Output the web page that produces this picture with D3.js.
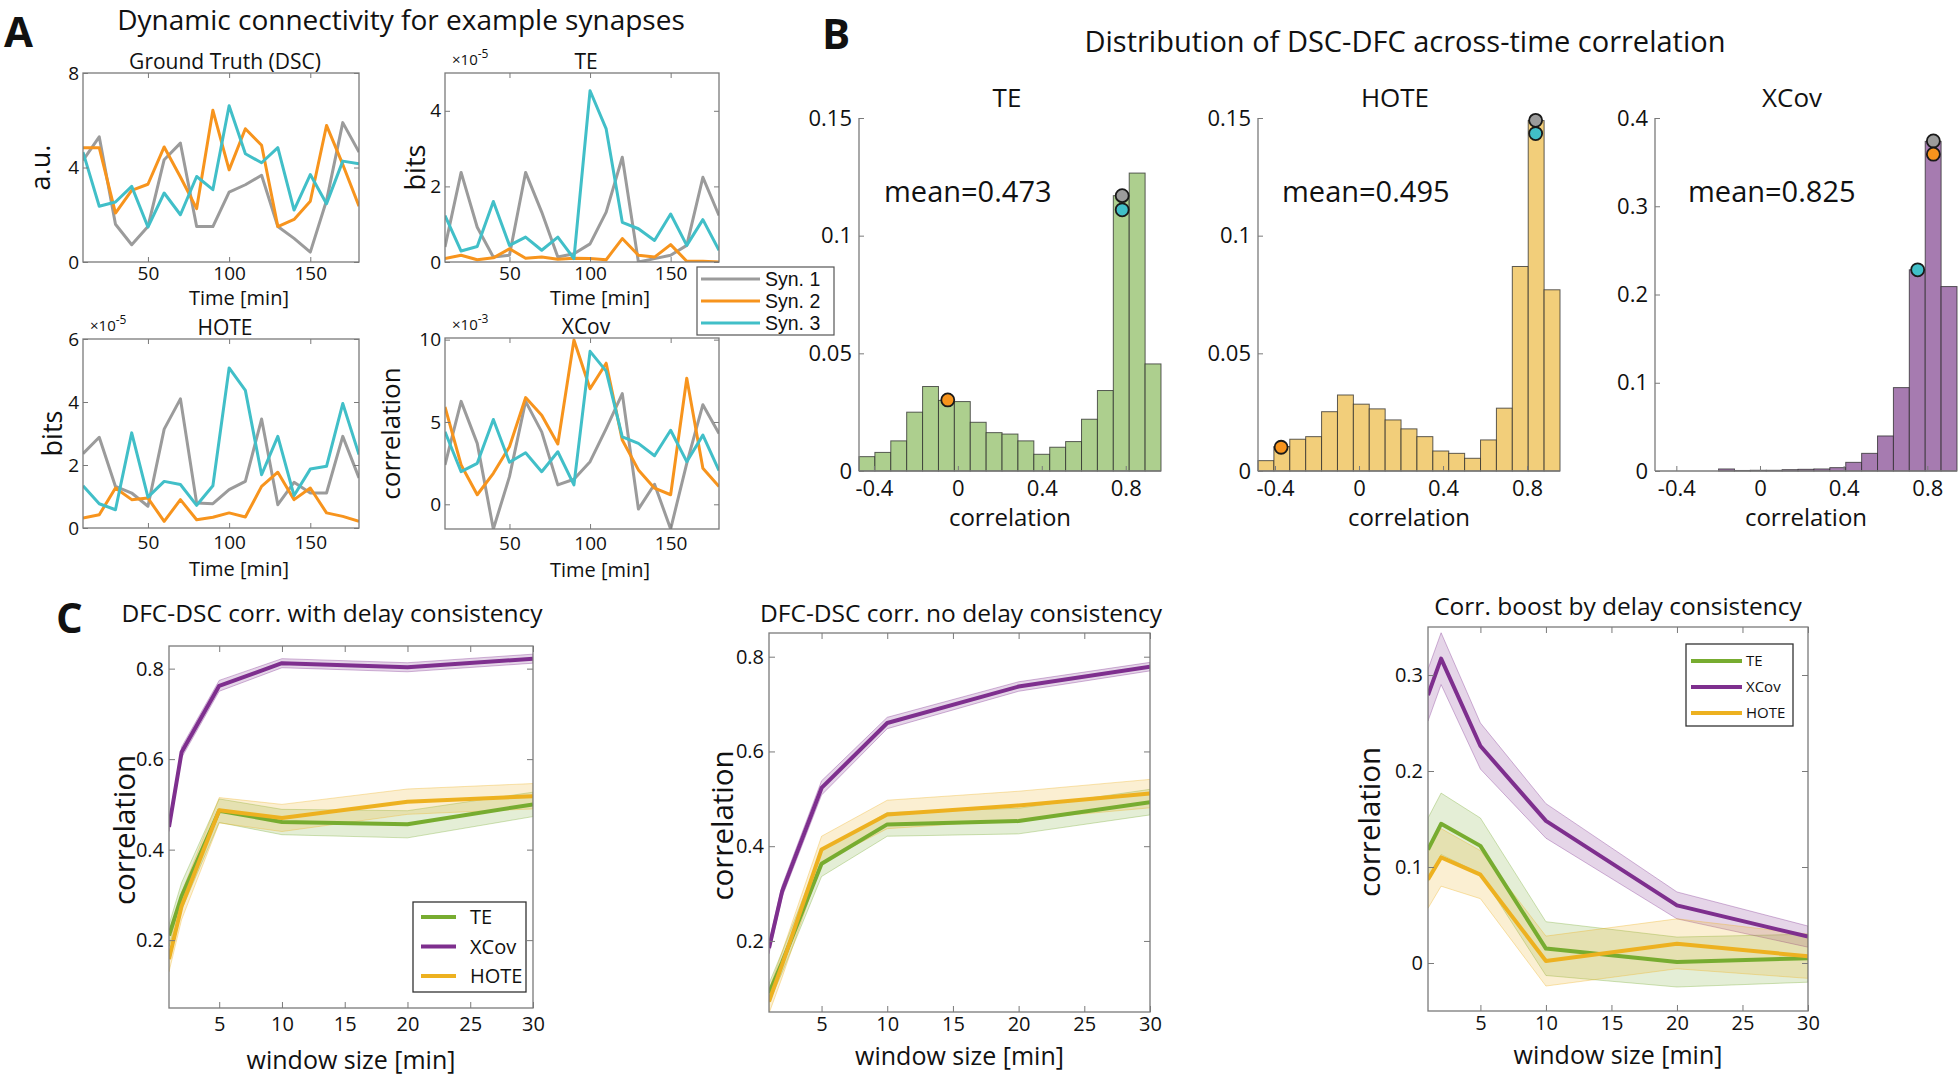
<!DOCTYPE html>
<html><head><meta charset="utf-8">
<script src="https://cdn.jsdelivr.net/npm/d3@7"></script>
<style>
body{margin:0;background:#fff;}
svg text{font-family:"Open Sans",sans-serif;fill:#111;}
svg text.leg{font-family:"Liberation Sans",Arial,sans-serif;}
</style></head><body>
<svg id="fig" width="1960" height="1077"></svg>
<script>
// ---------------- DATA ----------------
const timeMin = [10,20,30,40,50,60,70,80,90,100,110,120,130,140,150,160,170,180];
const synNames = ["Syn. 1","Syn. 2","Syn. 3"];
// Ground truth (a.u.)
const gtSyn1 = [4.3,5.3,1.6,0.73,1.5,4.33,5.03,1.5,1.5,2.96,3.27,3.67,1.5,1.0,0.42,2.6,5.9,4.65];
const gtSyn2 = [4.84,4.84,2.07,3.03,3.29,4.87,3.6,2.26,6.42,3.9,5.64,4.94,1.5,1.8,2.57,5.78,4.13,2.36];
const gtSyn3 = [4.65,2.36,2.54,3.2,1.48,2.92,2.0,3.62,3.06,6.61,4.58,4.2,4.84,2.2,3.7,2.47,4.27,4.16];
// TE (x1e-5 bits)
const teSyn1 = [0.4,2.37,0.92,0.13,0.18,2.37,1.32,0.13,0.22,0.48,1.32,2.77,0,0.09,0.18,0.44,2.24,1.23];
const teSyn2 = [0.09,0.18,0.06,0.11,0.35,0.1,0.13,0.07,0.1,0.09,0.06,0.62,0.18,0.13,0.46,0.02,0.02,0.0];
const teSyn3 = [1.23,0.29,0.41,1.6,0.44,0.66,0.31,0.66,0.09,4.53,3.52,1.05,0.88,0.57,1.27,0.44,1.12,0.31];
// HOTE (x1e-5 bits)
const hoteSyn1 = [2.36,2.88,1.32,1.11,0.69,3.14,4.1,0.79,0.77,1.22,1.48,3.46,0.74,1.45,1.11,1.11,2.91,1.59];
const hoteSyn2 = [0.32,0.42,1.27,0.9,0.95,0.21,0.9,0.26,0.34,0.48,0.35,1.32,1.77,0.9,1.27,0.48,0.37,0.21];
const hoteSyn3 = [1.34,0.77,0.58,3.02,0.98,1.48,1.38,0.72,1.34,5.08,4.37,1.69,2.91,1.03,1.87,1.96,3.95,2.33];
// XCov (x1e-3 correlation)
const xcovSyn1 = [2.39,6.25,3.7,-1.5,1.68,6.25,4.4,1.18,1.52,2.59,4.6,6.72,-0.29,1.22,-1.5,2.49,6.05,4.3];
const xcovSyn2 = [5.91,2.39,0.58,1.88,3.5,6.48,5.41,3.66,9.98,7.02,8.57,3.9,2.09,0.98,0.58,7.66,2.19,1.08];
const xcovSyn3 = [4.4,1.98,2.49,5.15,2.55,3.13,1.98,3.19,1.18,9.29,8.09,4.1,3.7,2.95,4.5,2.59,4.2,2.05];

// Histograms (B)
const histTicksX = [-0.4,0,0.4,0.8];
const teHist = [0.0061,0.0079,0.0128,0.025,0.0359,0.030,0.0295,0.0207,0.0163,0.0157,0.0128,0.0071,0.0101,0.0125,0.022,0.0342,0.117,0.1266,0.0455];
const teHistRange = [-0.471,0.968];
const teDotX = [0.783,-0.048,0.783], teDotY = [0.117,0.0302,0.111];
const hoteHist = [0.0044,0.0104,0.0135,0.0146,0.0252,0.0323,0.0284,0.0264,0.0217,0.0179,0.0146,0.0085,0.0075,0.0054,0.0132,0.0267,0.0869,0.1489,0.077];
const hoteHistRange = [-0.481,0.957];
const hoteDotX = [0.841,-0.371,0.841], hoteDotY = [0.149,0.0101,0.1434];
const xcovHist = [0,0,0,0,0.0023,0.0006,0.0008,0.0008,0.0015,0.0019,0.0023,0.0038,0.0098,0.02,0.0397,0.0945,0.228,0.3735,0.209];
const xcovHistRange = [-0.502,0.942];
const xcovDotX = [0.829,0.829,0.754], xcovDotY = [0.374,0.359,0.228];
const histMeans = [0.473,0.495,0.825];

// Window-size curves (C)
const windowSize = [1,2,5,10,20,30];
const methodNames = ["TE","XCov","HOTE"];
const c1TE = [0.21,0.297,0.486,0.461,0.456,0.50],   c1TEErr = [0.024,0.03,0.026,0.028,0.03,0.027];
const c1XCov = [0.45,0.615,0.762,0.812,0.803,0.822], c1XCovErr = [0.01,0.012,0.012,0.01,0.01,0.01];
const c1HOTE = [0.158,0.275,0.487,0.47,0.506,0.518], c1HOTEErr = [0.028,0.03,0.028,0.03,0.028,0.028];
const c2TE = [0.09,0.155,0.363,0.446,0.453,0.493],  c2TEErr = [0.02,0.022,0.027,0.025,0.027,0.027];
const c2XCov = [0.185,0.305,0.523,0.66,0.737,0.779], c2XCovErr = [0.012,0.012,0.015,0.012,0.01,0.009];
const c2HOTE = [0.072,0.15,0.393,0.467,0.486,0.511], c2HOTEErr = [0.025,0.027,0.028,0.03,0.03,0.03];
const c3TE = [0.118,0.145,0.122,0.015,0.001,0.005], c3TEErr = [0.033,0.032,0.029,0.028,0.026,0.025];
const c3XCov = [0.279,0.317,0.226,0.148,0.06,0.0275], c3XCovErr = [0.027,0.027,0.024,0.018,0.014,0.011];
const c3HOTE = [0.087,0.11,0.092,0.002,0.02,0.007], c3HOTEErr = [0.03,0.03,0.025,0.026,0.026,0.023];

// ---------------- STYLE ----------------
const synColors = ["#9b9b9b","#f7941d","#41bfc8"];
const methodColors = {TE:"#77ac30", XCov:"#7e2f8e", HOTE:"#edb120"};
const histFill = {TE:"#adcf8e", HOTE:"#f2ce7a", XCov:"#a67bb0"};
const AX = "#7a7a7a";

const svg = d3.select("#fig");
svg.append("rect").attr("width",1960).attr("height",1077).attr("fill","#fff");
let clipN = 0;

function styleAxis(g, fs){
  g.attr("font-family",null).attr("font-size",null);
  g.selectAll("text").attr("font-size",fs).attr("fill","#111");
  g.selectAll(".tick line").attr("stroke",AX);
  g.select(".domain").remove();
}
function boxAxes(x, y, o){
  const [l,r] = x.range(), [b,t] = y.range();
  const gb = svg.append("g").attr("transform",`translate(0,${b})`)
    .call(d3.axisBottom(x).tickValues(o.xt).tickSize(-o.ts).tickPadding(o.xp).tickFormat(o.xf||(d=>String(d))));
  styleAxis(gb, o.fs);
  const gl = svg.append("g").attr("transform",`translate(${l},0)`)
    .call(d3.axisLeft(y).tickValues(o.yt).tickSize(-o.ts).tickPadding(o.yp).tickFormat(o.yf||(d=>String(d))));
  styleAxis(gl, o.fs);
  if(o.box){
    const gt = svg.append("g").attr("transform",`translate(0,${t})`)
      .call(d3.axisTop(x).tickValues(o.xt).tickSize(-o.ts).tickFormat(""));
    styleAxis(gt, o.fs);
    const gr = svg.append("g").attr("transform",`translate(${r},0)`)
      .call(d3.axisRight(y).tickValues(o.yt).tickSize(-o.ts).tickFormat(""));
    styleAxis(gr, o.fs);
    svg.append("rect").attr("x",l).attr("y",t).attr("width",r-l).attr("height",b-t)
      .attr("fill","none").attr("stroke",AX).attr("stroke-width",1.3);
  } else {
    svg.append("line").attr("x1",l).attr("x2",l).attr("y1",t).attr("y2",b).attr("stroke",AX).attr("stroke-width",1.3);
    svg.append("line").attr("x1",l).attr("x2",r).attr("y1",b).attr("y2",b).attr("stroke",AX).attr("stroke-width",1.3);
  }
}
function makeClip(l,t,r,b){
  const id = "clip"+(clipN++);
  svg.append("clipPath").attr("id",id).append("rect").attr("x",l).attr("y",t).attr("width",r-l).attr("height",b-t);
  return `url(#${id})`;
}
function text(x,y,s,fs,anchor,extra){
  const t = svg.append("text").attr("x",x).attr("y",y).attr("font-size",fs)
    .attr("text-anchor",anchor||"middle").text(s);
  if(extra) extra(t);
  return t;
}
function vtext(x,y,s,fs){
  return svg.append("text").attr("transform",`translate(${x},${y}) rotate(-90)`)
    .attr("font-size",fs).attr("text-anchor","middle").text(s);
}

// ---------------- PANEL A ----------------
function panelA(c){
  const x = d3.scaleLinear().domain([10,180]).range([c.l,c.r]);
  const y = d3.scaleLinear().domain(c.yd).range([c.b,c.t]);
  const clip = makeClip(c.l,c.t,c.r,c.b);
  const line = d3.line().x((d,i)=>x(timeMin[i])).y(d=>y(d));
  c.series.forEach((s,i)=>{
    svg.append("path").datum(s).attr("d",line).attr("fill","none")
      .attr("stroke",synColors[i]).attr("stroke-width",3).attr("stroke-linejoin","round")
      .attr("clip-path",clip);
  });
  boxAxes(x,y,{xt:[50,100,150], yt:c.yt, ts:5, xp:c.xp, yp:4, fs:19, box:true});
  text((c.l+c.r)/2+4, c.t-4, c.title, 21);
  text((c.l+c.r)/2+18, c.b+c.xlOff, "Time [min]", 20);
  vtext(c.ylx, (c.t+c.b)/2, c.ylabel, c.ylfs||27);
  if(c.exp){
    const t = svg.append("text").attr("x",c.l+7).attr("y",c.t-8).attr("font-size",15);
    t.append("tspan").text("\u00d710");
    t.append("tspan").attr("dy",-7).attr("font-size",12).text(c.exp);
  }
}
panelA({l:83,r:359,t:73,b:262,yd:[0,8],yt:[0,4,8],series:[gtSyn1,gtSyn2,gtSyn3],
  title:"Ground Truth (DSC)",ylabel:"a.u.",ylx:50,xp:4,xlOff:43});
panelA({l:445,r:719,t:73,b:262,yd:[0,5],yt:[0,2,4],series:[teSyn1,teSyn2,teSyn3],
  title:"TE",ylabel:"bits",ylx:425,xp:4,xlOff:43,exp:"-5"});
panelA({l:83,r:359,t:339,b:528,yd:[0,6],yt:[0,2,4,6],series:[hoteSyn1,hoteSyn2,hoteSyn3],
  title:"HOTE",ylabel:"bits",ylx:62,xp:8,xlOff:48,exp:"-5"});
panelA({l:445,r:719,t:338,b:529,yd:[-1.5,10.1],yt:[0,5,10],series:[xcovSyn1,xcovSyn2,xcovSyn3],
  title:"XCov",ylabel:"correlation",ylx:400,xp:8,xlOff:48,exp:"-3",ylfs:26});

// legend A
svg.append("rect").attr("x",697).attr("y",267).attr("width",137).attr("height",68)
  .attr("fill","#fff").attr("stroke","#555").attr("stroke-width",1.2);
synNames.forEach((n,i)=>{
  const yy = 279 + i*22;
  svg.append("line").attr("x1",701).attr("x2",760).attr("y1",yy).attr("y2",yy)
    .attr("stroke",synColors[i]).attr("stroke-width",3);
  text(765, yy+7, n, 19.5, "start", t=>t.attr("class","leg"));
});

// titles & panel letters
text(401, 30, "Dynamic connectivity for example synapses", 28);
text(1405, 52, "Distribution of DSC-DFC across-time correlation", 29);
text(4, 47, "A", 42, "start", t=>t.attr("font-weight","bold"));
text(822, 49, "B", 42, "start", t=>t.attr("font-weight","bold"));
text(56, 633, "C", 42, "start", t=>t.attr("font-weight","bold"));

// ---------------- PANEL B ----------------
function panelB(c){
  const x = d3.scaleLinear().domain(c.range).range([c.l,c.r]);
  const y = d3.scaleLinear().domain([0,c.ymax]).range([471,118]);
  const w = (c.range[1]-c.range[0])/c.counts.length;
  svg.append("g").selectAll("rect").data(c.counts).join("rect")
    .attr("x",(d,i)=>x(c.range[0]+i*w)).attr("width",(d,i)=>x(c.range[0]+(i+1)*w)-x(c.range[0]+i*w))
    .attr("y",d=>y(d)).attr("height",d=>y(0)-y(d))
    .attr("fill",c.fill).attr("stroke","#2a2a2a").attr("stroke-opacity",0.75).attr("stroke-width",1);
  boxAxes(x,y,{xt:histTicksX, yt:c.yt, ts:5, xp:9, yp:7, fs:22, box:false});
  c.dx.forEach((dx,i)=>{
    svg.append("circle").attr("cx",x(dx)).attr("cy",y(c.dy[i])).attr("r",6.5)
      .attr("fill",synColors[i]).attr("stroke","#1a1a1a").attr("stroke-width",1.8);
  });
  text(c.meanX, 202, "mean="+c.mean.toFixed(3), 29, "start");
  text(c.titleX, 107, c.title, 26);
  text((c.l+c.r)/2, 526, "correlation", 24);
}
panelB({l:859,r:1161,range:teHistRange,counts:teHist,ymax:0.15,yt:[0,0.05,0.1,0.15],fill:histFill.TE,
  dx:teDotX,dy:teDotY,mean:histMeans[0],meanX:884,title:"TE",titleX:1007});
panelB({l:1258,r:1560,range:hoteHistRange,counts:hoteHist,ymax:0.15,yt:[0,0.05,0.1,0.15],fill:histFill.HOTE,
  dx:hoteDotX,dy:hoteDotY,mean:histMeans[1],meanX:1282,title:"HOTE",titleX:1395});
panelB({l:1655,r:1957,range:xcovHistRange,counts:xcovHist,ymax:0.4,yt:[0,0.1,0.2,0.3,0.4],fill:histFill.XCov,
  dx:xcovDotX,dy:xcovDotY,mean:histMeans[2],meanX:1688,title:"XCov",titleX:1792});

// ---------------- PANEL C ----------------
function panelC(c){
  const x = d3.scaleLinear().domain([1,30]).range([c.l,c.r]);
  const y = d3.scaleLinear().domain(c.yd).range([c.b,c.t]);
  const clip = makeClip(c.l,c.t,c.r,c.b);
  const area = (m,e)=>d3.area().x((d,i)=>x(windowSize[i])).y0((d,i)=>y(m[i]-e[i])).y1((d,i)=>y(m[i]+e[i]))(m);
  const line = d3.line().x((d,i)=>x(windowSize[i])).y(d=>y(d));
  methodNames.forEach(n=>{
    const m = c.data[n][0], e = c.data[n][1];
    svg.append("path").attr("d",area(m,e)).attr("fill",methodColors[n]).attr("fill-opacity",0.2)
      .attr("stroke",methodColors[n]).attr("stroke-opacity",0.35).attr("stroke-width",1).attr("clip-path",clip);
  });
  methodNames.forEach(n=>{
    svg.append("path").datum(c.data[n][0]).attr("d",line).attr("fill","none")
      .attr("stroke",methodColors[n]).attr("stroke-width",4).attr("stroke-linejoin","round").attr("clip-path",clip);
  });
  boxAxes(x,y,{xt:[5,10,15,20,25,30], yt:c.yt, ts:6, xp:c.xp, yp:5, fs:20, box:true});
  text(c.titleX, c.titleY, c.title, 24.5);
  text((c.l+c.r)/2, c.xlY, "window size [min]", 25);
  vtext(c.ylX, (c.t+c.b)/2+3, "correlation", 29.5);
  const L = c.leg;
  if(!L) return;
  svg.append("rect").attr("x",L.x).attr("y",L.y).attr("width",L.w).attr("height",L.h)
    .attr("fill","#fff").attr("stroke","#333").attr("stroke-width",1.3);
  methodNames.forEach((n,i)=>{
    const yy = L.r0 + i*L.dr;
    svg.append("line").attr("x1",L.lx0).attr("x2",L.lx1).attr("y1",yy).attr("y2",yy)
      .attr("stroke",methodColors[n]).attr("stroke-width",4);
    text(L.tx, yy+L.fs*0.36, n, L.fs, "start");
  });
}
panelC({l:169,r:533,t:646,b:1008,yd:[0.05,0.85],yt:[0.2,0.4,0.6,0.8],xp:9,
  data:{TE:[c1TE,c1TEErr],XCov:[c1XCov,c1XCovErr],HOTE:[c1HOTE,c1HOTEErr]},
  title:"DFC-DSC corr. with delay consistency",titleX:332,titleY:622,xlY:1069,ylX:135,
  leg:{x:413,y:902,w:113,h:90,r0:917,dr:29.5,lx0:421,lx1:456,tx:470,fs:20}});
panelC({l:769,r:1150,t:633,b:1012,yd:[0.05,0.85],yt:[0.2,0.4,0.6,0.8],xp:5,
  data:{TE:[c2TE,c2TEErr],XCov:[c2XCov,c2XCovErr],HOTE:[c2HOTE,c2HOTEErr]},
  title:"DFC-DSC corr. no delay consistency",titleX:961,titleY:622,xlY:1065,ylX:733,
  leg:null});
panelC({l:1428,r:1808,t:627,b:1011,yd:[-0.05,0.35],yt:[0,0.1,0.2,0.3],xp:5,
  data:{TE:[c3TE,c3TEErr],XCov:[c3XCov,c3XCovErr],HOTE:[c3HOTE,c3HOTEErr]},
  title:"Corr. boost by delay consistency",titleX:1618,titleY:615,xlY:1064,ylX:1380,
  leg:{x:1686,y:644,w:107,h:82,r0:661,dr:26,lx0:1691,lx1:1742,tx:1746,fs:15}});
</script></body></html>
